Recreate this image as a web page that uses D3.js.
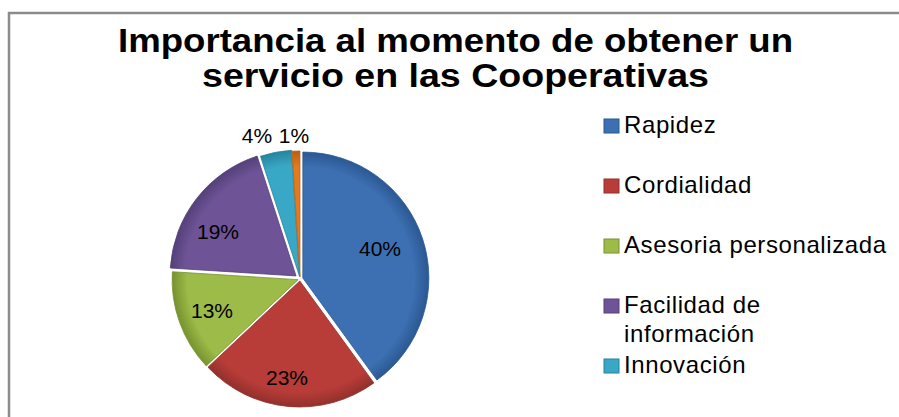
<!DOCTYPE html>
<html><head><meta charset="utf-8">
<script src="https://cdn.jsdelivr.net/npm/d3@7"></script>
<style>body{margin:0;background:#fff}svg{display:block}</style>
</head><body>
<svg id="c" width="899" height="417"></svg>
<script>
const categories = ["Rapidez","Cordialidad","Asesoria personalizada","Facilidad de información","Innovación","Otros"];
const values = [40,23,13,19,4,1];
const legendLines = [["Rapidez"],["Cordialidad"],["Asesoria personalizada"],["Facilidad de","información"],["Innovación"]];
const colors = ["#3D70B2","#B83C38","#9CBB48","#6E5497","#38A8C6","#E37A1E"];
const darkColors = ["#2A5892","#92302C","#77922F","#55407A","#27849C","#B85E10"];
const titleLines = ["Importancia al momento de obtener un","servicio en las Cooperativas"];

const svg = d3.select("#c");
// border
svg.append("path").attr("d","M9,417 V13 H899").attr("fill","none").attr("stroke","#8c8c8c").attr("stroke-width",2.5);

// title
const tl = [ {y:52, w:675}, {y:87, w:507} ];
svg.selectAll("text.title").data(titleLines).join("text")
  .attr("class","title")
  .attr("x",455.5).attr("y",(d,i)=>tl[i].y)
  .attr("text-anchor","middle")
  .attr("font-family","'Liberation Sans', Arial, sans-serif")
  .attr("font-weight","bold").attr("font-size",34)
  .attr("textLength",(d,i)=>tl[i].w).attr("lengthAdjust","spacingAndGlyphs")
  .text(d=>d);

// pie
const cx=300, cy=279, r=126;
const pie = d3.pie().sort(null).value(d=>d);
const arcs = pie(values);
const arc = d3.arc().innerRadius(0).outerRadius(r);
const defs = svg.append("defs");
colors.forEach((c,i)=>{
  const g = defs.append("radialGradient").attr("id","g"+i)
    .attr("gradientUnits","userSpaceOnUse").attr("cx",0).attr("cy",0).attr("r",r);
  g.append("stop").attr("offset","0%").attr("stop-color",c);
  g.append("stop").attr("offset","88%").attr("stop-color",c);
  g.append("stop").attr("offset","100%").attr("stop-color",darkColors[i]);
});
const explode = [3,2,2,5,3,2];
const pg = svg.append("g").attr("transform",`translate(${cx},${cy})`);
pg.selectAll("path").data(arcs).join("path")
  .attr("transform",(d,i)=>{const a=(d.startAngle+d.endAngle)/2; return `translate(${Math.sin(a)*explode[i]},${-Math.cos(a)*explode[i]})`;})
  .attr("d",arc)
  .attr("fill",(d,i)=>`url(#g${i})`)
  .attr("stroke",(d,i)=>darkColors[i]).attr("stroke-width",0.8);

// labels
const labelPos = [[80,-31],[-13,98],[-88,31],[-82,-48],[-43,-144],[-6,-144]];
pg.selectAll("text.lbl").data(arcs).join("text")
  .attr("class","lbl")
  .attr("x",(d,i)=>labelPos[i][0]).attr("y",(d,i)=>labelPos[i][1])
  .attr("text-anchor","middle").attr("dominant-baseline","central")
  .attr("font-family","'Liberation Sans', Arial, sans-serif").attr("font-size",21)
  .attr("fill","#000")
  .text(d=>d.value+"%");

// legend
const legY = [133,193,253,313,373];
const lg = svg.append("g");
const items = lg.selectAll("g").data(legendLines).join("g")
  .attr("transform",(d,i)=>`translate(604,${legY[i]})`);
items.append("rect").attr("x",0).attr("y",-14).attr("width",15).attr("height",14)
  .attr("fill",(d,i)=>colors[i]).attr("stroke",(d,i)=>darkColors[i]).attr("stroke-width",1);
items.append("text").attr("x",20).attr("y",0)
  .attr("font-family","'Liberation Sans', Arial, sans-serif").attr("font-size",24)
  .attr("letter-spacing",0.6)
  .selectAll("tspan").data(d=>d).join("tspan")
  .attr("x",20).attr("dy",(d,j)=>j===0?0:29).text(d=>d);
</script>
</body></html>
